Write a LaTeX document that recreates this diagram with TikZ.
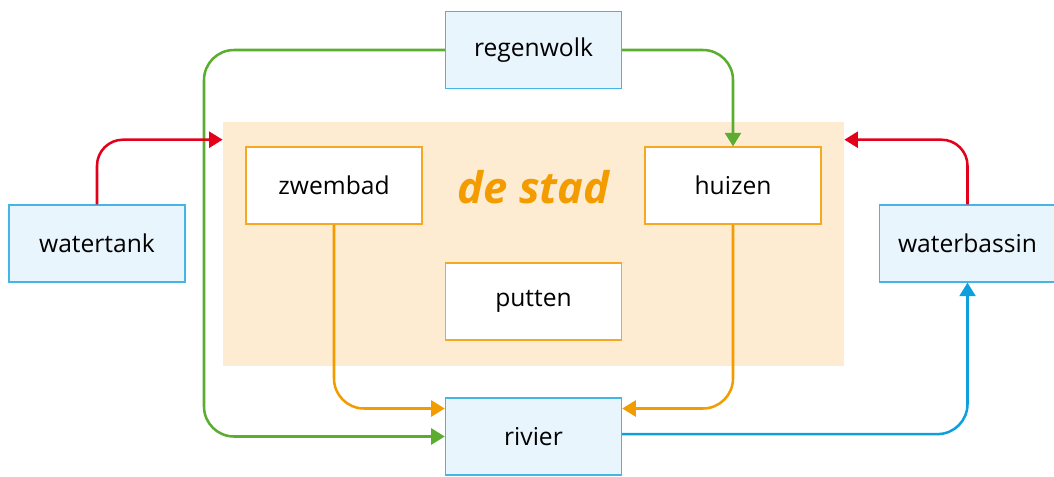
\documentclass[tikz,border=0pt]{standalone}
\usepackage{fontspec}
\setmainfont{Open Sans}
\usetikzlibrary{arrows.meta}
\definecolor{kringgroen}{HTML}{5BAD2F}
\definecolor{kringrood}{HTML}{E2001A}
\definecolor{kringoranje}{HTML}{F39C00}
\definecolor{kringblauw}{HTML}{0EA0DD}
\definecolor{bakblauw}{HTML}{E9F5FC}
\definecolor{randblauw}{HTML}{45B4E6}
\definecolor{stadkleur}{HTML}{FDEBD2}
\definecolor{randoranje}{HTML}{F7A823}

\begin{document}
\begin{tikzpicture}[x=0.025cm,y=-0.025cm,
  bron/.style={draw=randblauw,fill=bakblauw,line width=1pt,minimum width=4.4cm,minimum height=1.92cm,inner sep=0pt,font=\fontsize{17.5}{20}\selectfont},
  deel/.style={draw=randoranje,fill=white,line width=1pt,minimum width=4.4cm,minimum height=1.92cm,inner sep=0pt,font=\fontsize{17.5}{20}\selectfont},
  stroom/.style={line width=1.8pt,rounded corners=0.75cm,-{Triangle[length=0.34cm,width=0.4cm]}}]
\useasboundingbox (0,0) rectangle (1054,476);
% de stad
\node[fill=stadkleur,minimum width=15.525cm,minimum height=6.1cm,inner sep=0pt] (stad) at (533.5,244) {};
\node[text=kringoranje,font=\fontsize{31}{34}\selectfont\rmfamily\bfseries\itshape] (stadnaam) at (533.5,187) {de stad};
% knopen
\node[bron] (regenwolk) at (533.5,50) {regenwolk};
\node[bron] (watertank) at (97,243.5) {watertank};
\node[bron] (waterbassin) at (967.5,243.5) {waterbassin};
\node[bron] (rivier) at (533.5,436.5) {rivier};
\node[deel] (zwembad) at (334,185.5) {zwembad};
\node[deel] (huizen) at (733,185.5) {huizen};
\node[deel] (putten) at (533.5,301.5) {putten};
% pijlen
\draw[stroom,kringgroen] (regenwolk.west) -| (204,240) |- (rivier.west);
\draw[stroom,kringgroen] (regenwolk.east) -| (huizen.north);
\draw[stroom,kringrood,rounded corners=0.65cm] (watertank.north) |- ([yshift=-0.45cm]stad.north west);
\draw[stroom,kringrood,rounded corners=0.65cm] (waterbassin.north) |- ([yshift=-0.45cm]stad.north east);
\draw[stroom,kringoranje] (zwembad.south) |- ([yshift=0.7cm]rivier.west);
\draw[stroom,kringoranje] (huizen.south) |- ([yshift=0.7cm]rivier.east);
\draw[stroom,kringblauw] ([yshift=0.06cm]rivier.east) -| (waterbassin.south);
\end{tikzpicture}
\end{document}
